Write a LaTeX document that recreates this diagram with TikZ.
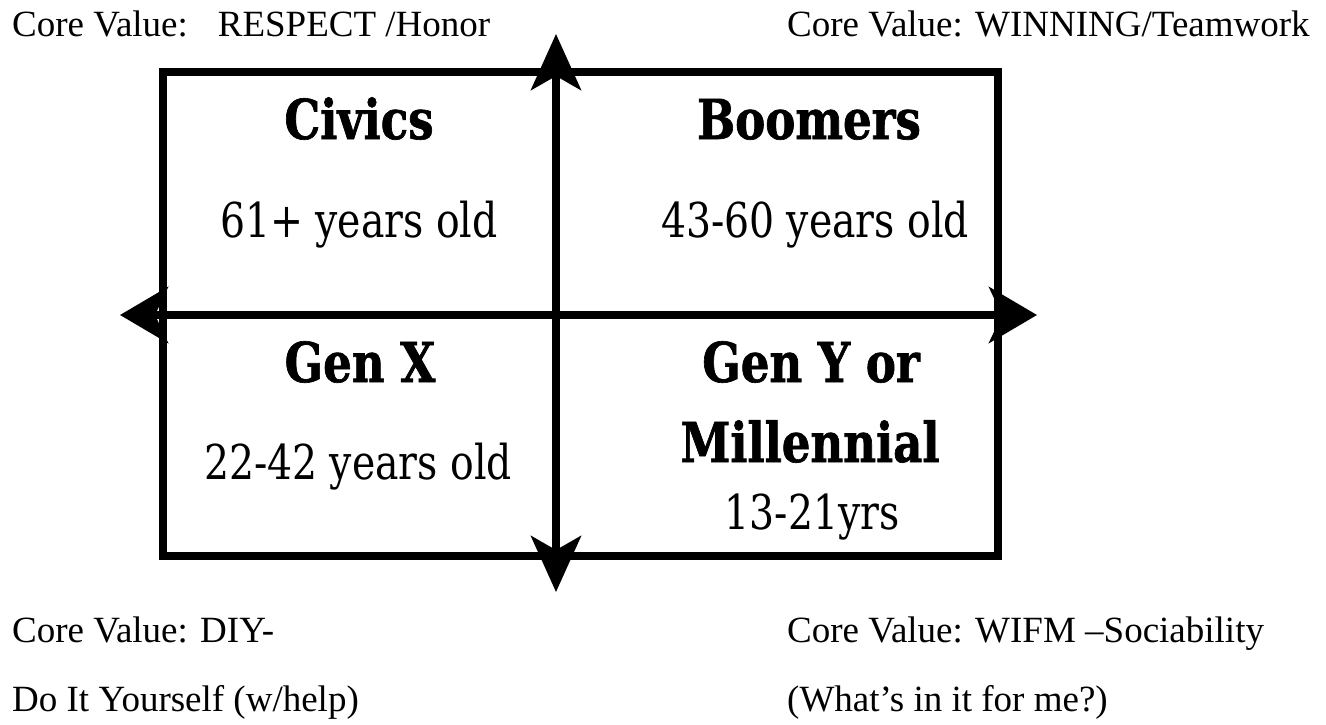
\documentclass[tikz,border=0pt]{standalone}
\usepackage{fontspec}
\setmainfont{Liberation Serif}
\newfontfamily\qfont{DejaVu Serif}[FakeStretch=0.82, BoldFeatures={FakeBold=1.2}]
\usetikzlibrary{arrows.meta}
\tikzset{
  core/.style={font=\fontsize{37}{42}\selectfont, anchor=base west, inner sep=0pt},
  qtitle/.style={font=\qfont\bfseries\fontsize{55}{60}\selectfont, anchor=base, inner sep=0pt},
  qage/.style={font=\qfont\fontsize{48}{54}\selectfont, anchor=base, inner sep=0pt},
  frame/.style={line width=7.5pt},
  axis/.style={line width=7.5pt},
}
\begin{document}
\begin{tikzpicture}[x=1pt,y=-1pt]
\useasboundingbox (0,0) rectangle (1326,724);
\coordinate (vtop) at (556,34);
\coordinate (vbot) at (556,592);
\coordinate (hl) at (120,315);
\coordinate (hr) at (1037,315);
\draw[frame] (163,72) rectangle (998,556);
\draw[axis, {Stealth[length=56pt,width=50pt,inset=14pt]}-{Stealth[length=56pt,width=50pt,inset=14pt]}] (vtop) -- (vbot);
\draw[axis, {Stealth[length=48pt,width=56pt,inset=13pt]}-{Stealth[length=48pt,width=56pt,inset=13pt]}] (hl) -- (hr);
\node[qtitle] (civ) at (359,139) {Civics};
\node[qage] (civa) at (359,237) {61+ years old};
\node[qtitle] (boo) at (809,139) {Boomers};
\node[qage] (booa) at (815,237) {43-60 years old};
\node[qtitle] (genx) at (360,382) {Gen X};
\node[qage] (genxa) at (358,479) {22-42 years old};
\node[qtitle] (geny) at (811,382) {Gen Y or};
\node[qtitle] (mil) at (810,462) {Millennial};
\node[qage] (mila) at (812,529) {13-21yrs};
\node[core] (tl) at (12,36) {Core Value:\hspace{30pt}RESPECT /Honor};
\node[core] (tr) at (787,36) {Core Value: WINNING/Teamwork};
\node[core] (bl1) at (12,642) {Core Value: DIY-};
\node[core] (bl2) at (12,711) {Do It Yourself (w/help)};
\node[core] (br1) at (787,642) {Core Value: WIFM –Sociability};
\node[core] (br2) at (787,711) {(What’s in it for me?)};
\end{tikzpicture}
\end{document}
